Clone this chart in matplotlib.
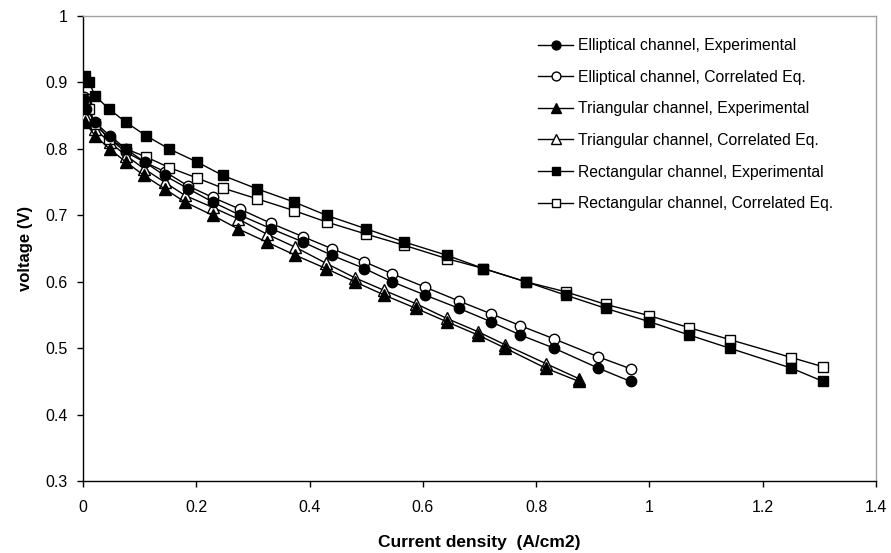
import matplotlib
matplotlib.use("Agg")
import matplotlib.pyplot as plt

plt.rcParams['font.family'] = ['Liberation Sans', 'DejaVu Sans']

# Elliptical channel
ell_x = [0.002, 0.006, 0.021, 0.047, 0.076, 0.109, 0.144, 0.186, 0.229, 0.278, 0.332,
         0.388, 0.439, 0.497, 0.546, 0.604, 0.664, 0.720, 0.772, 0.832, 0.910, 0.967]
ell_exp = [0.875, 0.860, 0.840, 0.820, 0.800, 0.780, 0.760, 0.740, 0.720, 0.700, 0.680,
           0.660, 0.640, 0.620, 0.600, 0.580, 0.560, 0.540, 0.520, 0.500, 0.470, 0.450]
ell_cor = [0.878, 0.868, 0.838, 0.815, 0.795, 0.780, 0.766, 0.744, 0.727, 0.709, 0.688,
           0.668, 0.650, 0.630, 0.612, 0.592, 0.571, 0.552, 0.534, 0.514, 0.487, 0.469]

# Triangular channel
tri_x = [0.004, 0.021, 0.047, 0.076, 0.108, 0.144, 0.180, 0.229, 0.273, 0.324, 0.375,
         0.429, 0.480, 0.532, 0.588, 0.642, 0.697, 0.746, 0.817, 0.876]
tri_exp = [0.840, 0.820, 0.800, 0.780, 0.760, 0.740, 0.720, 0.700, 0.680, 0.660, 0.640,
           0.620, 0.600, 0.580, 0.560, 0.540, 0.520, 0.500, 0.470, 0.450]
tri_cor = [0.850, 0.830, 0.810, 0.790, 0.770, 0.750, 0.730, 0.712, 0.695, 0.672, 0.652,
           0.628, 0.606, 0.587, 0.567, 0.545, 0.525, 0.505, 0.477, 0.454]

# Rectangular channel
rec_x = [0.004, 0.011, 0.021, 0.046, 0.076, 0.111, 0.152, 0.202, 0.247, 0.307, 0.373,
         0.430, 0.499, 0.567, 0.642, 0.707, 0.782, 0.852, 0.923, 1.000, 1.070, 1.142,
         1.251, 1.307]
rec_exp = [0.910, 0.900, 0.880, 0.860, 0.840, 0.820, 0.800, 0.780, 0.760, 0.740, 0.720,
           0.700, 0.680, 0.660, 0.640, 0.620, 0.600, 0.580, 0.560, 0.540, 0.520, 0.500,
           0.470, 0.450]
rec_cor = [0.875, 0.860, 0.838, 0.815, 0.800, 0.788, 0.772, 0.756, 0.741, 0.725, 0.707,
           0.690, 0.672, 0.655, 0.635, 0.620, 0.600, 0.585, 0.566, 0.549, 0.531, 0.513,
           0.486, 0.472]

labels = ["Elliptical channel, Experimental", "Elliptical channel, Correlated Eq.",
          "Triangular channel, Experimental", "Triangular channel, Correlated Eq.",
          "Rectangular channel, Experimental", "Rectangular channel, Correlated Eq."]

x_ticks = [0, 0.2, 0.4, 0.6, 0.8, 1.0, 1.2, 1.4]
x_ticklabels = ["0", "0.2", "0.4", "0.6", "0.8", "1", "1.2", "1.4"]
y_ticks = [0.3, 0.4, 0.5, 0.6, 0.7, 0.8, 0.9, 1.0]
y_ticklabels = ["0.3", "0.4", "0.5", "0.6", "0.7", "0.8", "0.9", "1"]

fig = plt.figure(figsize=(8.91, 5.53), dpi=100)
ax = fig.add_axes([0.0932, 0.130, 0.8898, 0.841])

series = [
    (ell_x, ell_exp, 'o', 'black', 4, 7.5),
    (ell_x, ell_cor, 'o', 'white', 3, 7.5),
    (tri_x, tri_exp, '^', 'black', 4, 8),
    (tri_x, tri_cor, '^', 'white', 3, 8),
    (rec_x, rec_exp, 's', 'black', 4, 7),
    (rec_x, rec_cor, 's', 'white', 3, 7),
]
handles = []
for (xs, ys, m, fc, z, ms), lab in zip(series, labels):
    h, = ax.plot(xs, ys, color='black', lw=1.0, marker=m, markersize=ms,
                 markerfacecolor=fc, markeredgecolor='black', markeredgewidth=1.0,
                 zorder=z, label=lab)
    handles.append(h)

ax.set_xlim(0, 1.4)
ax.set_ylim(0.3, 1.0)
ax.set_xticks(x_ticks)
ax.set_xticklabels(x_ticklabels)
ax.set_yticks(y_ticks)
ax.set_yticklabels(y_ticklabels)
ax.tick_params(direction='out', length=4.3, width=1, labelsize=11.5, colors='black')
ax.tick_params(axis='x', pad=9.5)
ax.tick_params(axis='y', pad=6.5)

for s in ['left', 'bottom']:
    ax.spines[s].set_color('black')
    ax.spines[s].set_linewidth(1.0)
for s in ['top', 'right']:
    ax.spines[s].set_color('#a0a0a0')
    ax.spines[s].set_linewidth(1.0)

ax.set_xlabel("Current density  (A/cm2)", fontsize=12.5, fontweight='bold')
ax.xaxis.set_label_coords(0.5, -0.133)
ax.xaxis.label.set_va('center')
ax.set_ylabel("voltage (V)", fontsize=12, fontweight='bold')
ax.yaxis.set_label_coords(-0.072, 0.5)
ax.yaxis.label.set_va('center')

leg = ax.legend(handles=handles, loc='upper left', bbox_to_anchor=(0.556, 0.983),
                frameon=False, fontsize=11.3, handlelength=2.25, handletextpad=0.3,
                labelspacing=1.06, markerscale=0.85)

fig.savefig("out.png", dpi=100)
